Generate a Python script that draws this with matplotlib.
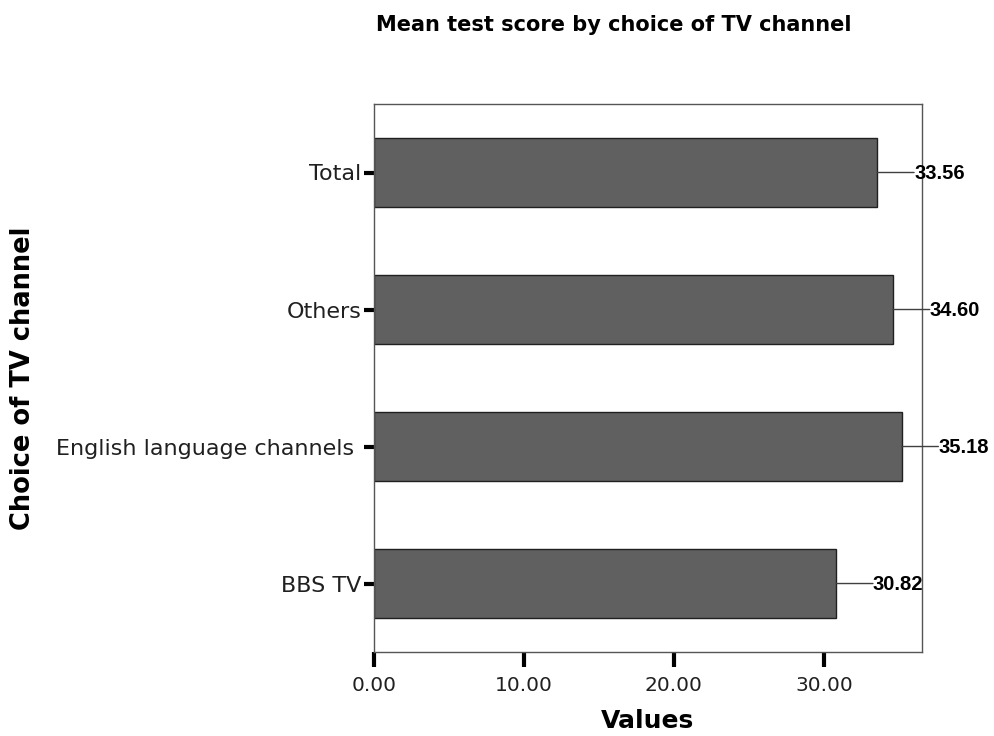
import matplotlib.pyplot as plt

channels = ['BBS TV', 'English language channels ', 'Others', 'Total']
mean_scores = [30.82, 35.18, 34.60, 33.56]
x_ticks = [0, 10, 20, 30]

fig = plt.figure(figsize=(9.94, 7.36), dpi=100)
ax = fig.add_axes([0.376, 0.1141, 0.5517, 0.7446])

pos = range(len(channels))
ax.barh(pos, mean_scores, height=0.5, color='#606060', edgecolor='#202020', linewidth=1)

# leader lines + bold value labels
gap = 26.5  # points from bar end to label
for y, v in zip(pos, mean_scores):
    ax.annotate('', xy=(v, y), xytext=(gap, 0), textcoords='offset points',
                arrowprops=dict(arrowstyle='-', color='#404040', lw=1,
                                shrinkA=0, shrinkB=0))
    ax.annotate(f'{v:.2f}', xy=(v, y), xytext=(gap, -1), textcoords='offset points',
                ha='left', va='center', fontsize=14.5, fontweight='bold',
                family='Liberation Sans', color='black')

ax.set_xlim(0, 36.55)
ax.set_ylim(-0.5, 3.5)
ax.set_yticks(list(pos))
ax.set_yticklabels(channels, fontsize=16)
ax.set_xticks(x_ticks)
ax.set_xticklabels([f'{t:.2f}' for t in x_ticks], fontsize=14.5)
ax.tick_params(axis='both', direction='out', width=3, color='black',
               labelcolor='#202020')
ax.tick_params(axis='y', length=7, pad=2)
ax.tick_params(axis='x', length=11, pad=6)

for s in ax.spines.values():
    s.set_color('#555555')
    s.set_linewidth(1)

ax.set_xlabel('Values', fontsize=18, fontweight='bold', labelpad=10)
ax.set_ylabel('Choice of TV channel', fontsize=18.5, fontweight='bold')
ax.yaxis.set_label_coords(-0.615, 0.5)

fig.text(0.617, 0.966, 'Mean test score by choice of TV channel', ha='center', va='center',
         fontsize=15, fontweight='bold')

fig.savefig('out.png', dpi=100)
